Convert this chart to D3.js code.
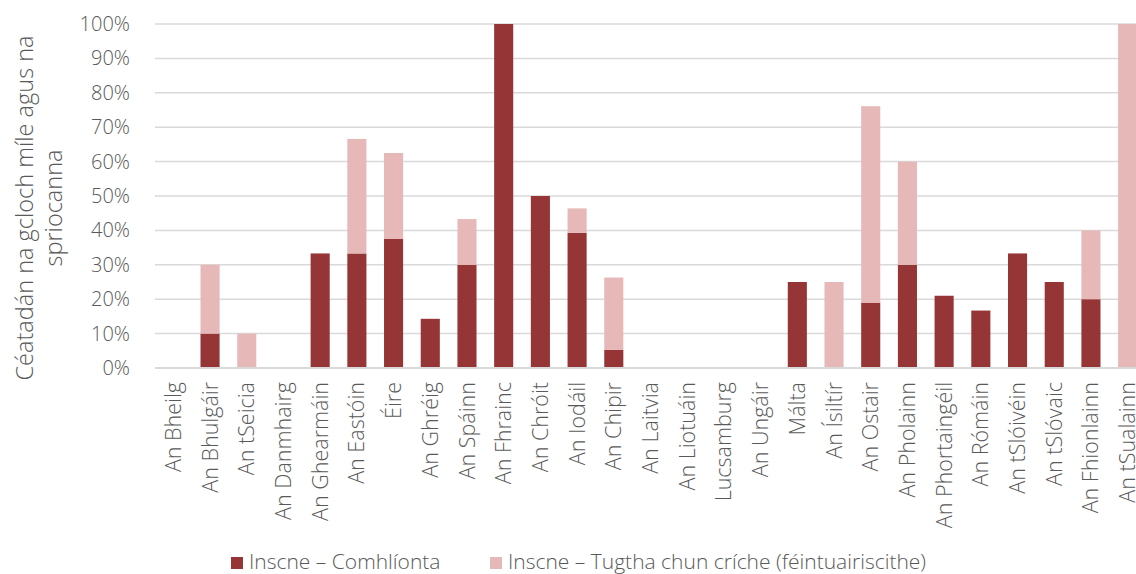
<!DOCTYPE html>
<html>
<head>
<meta charset="utf-8">
<script src="https://cdn.jsdelivr.net/npm/d3@7"></script>
<style>
  body { margin: 0; background: #fff; }
  svg { display: block; font-family: "Open Sans", sans-serif; font-weight: 300; }
</style>
</head>
<body>
<svg id="chart" width="1136" height="574"></svg>
<script>
const countries = [
  "An Bheilg", "An Bhulgáir", "An tSeicia", "An Danmhairg", "An Ghearmáin",
  "An Eastóin", "Éire", "An Ghréig", "An Spáinn", "An Fhrainc", "An Chróit",
  "An Iodáil", "An Chipir", "An Laitvia", "An Liotuáin", "Lucsamburg",
  "An Ungáir", "Málta", "An Ísiltír", "An Ostair", "An Pholainn",
  "An Phortaingéil", "An Rómáin", "An tSlóivéin", "An tSlóvaic",
  "An Fhionlainn", "An tSualainn"
];
// Inscne – Comhlíonta (%)
const complete = [0, 10, 0, 0, 33.3, 33.3, 37.5, 14.3, 30, 100, 50, 39.3, 5.3,
  0, 0, 0, 0, 25, 0, 19, 30, 21, 16.7, 33.3, 25, 20, 0];
// Inscne – Tugtha chun críche (féintuairiscithe) (%)
const selfReported = [0, 20, 10, 0, 0, 33.3, 25, 0, 13.3, 0, 0, 7.1, 21,
  0, 0, 0, 0, 0, 25, 57.1, 30, 0, 0, 0, 0, 20, 100];
const seriesNames = ["Inscne – Comhlíonta", "Inscne – Tugtha chun críche (féintuairiscithe)"];
const yTicks = [0, 10, 20, 30, 40, 50, 60, 70, 80, 90, 100];

const colors = ["#963535", "#e6b8b8"];
const margin = { top: 24, left: 155, bottom: 206 };
const svg = d3.select("#chart");
const plotRight = 1146;
const height = 574 - margin.top - margin.bottom;

const rows = countries.map((c, i) => ({ country: c, complete: complete[i], selfReported: selfReported[i] }));
const stacked = d3.stack().keys(["complete", "selfReported"])(rows);

const x = d3.scaleBand().domain(countries).range([margin.left, plotRight]).paddingInner(0.48).paddingOuter(0.24);
const y = d3.scaleLinear().domain([0, 100]).range([margin.top + height, margin.top]);

// grid lines
svg.append("g")
  .selectAll("line")
  .data(yTicks)
  .enter()
  .append("line")
  .attr("x1", margin.left)
  .attr("x2", plotRight)
  .attr("y1", d => y(d))
  .attr("y2", d => y(d))
  .attr("stroke", "#d9d9d9")
  .attr("stroke-width", 1.5);

// y tick labels
svg.append("g")
  .attr("transform", "translate(" + (margin.left - 22) + ",0)")
  .call(d3.axisLeft(y).tickValues(yTicks).tickSize(0).tickFormat(d => d + "%"))
  .call(g => g.select(".domain").remove())
  .selectAll("text")
  .attr("fill", "#595959")
  .style("font-size", "20px")
  .style("font-family", "'Open Sans', sans-serif");

// bars
svg.append("g")
  .selectAll("g")
  .data(stacked)
  .enter()
  .append("g")
  .attr("fill", (d, i) => colors[i])
  .selectAll("rect")
  .data(d => d)
  .enter()
  .append("rect")
  .attr("x", d => x(d.data.country))
  .attr("width", x.bandwidth())
  .attr("y", d => y(d[1]))
  .attr("height", d => y(d[0]) - y(d[1]));

// baseline
svg.append("line")
  .attr("x1", margin.left)
  .attr("x2", plotRight)
  .attr("y1", y(0))
  .attr("y2", y(0))
  .attr("stroke", "#d9d9d9")
  .attr("stroke-width", 2);

// x labels
svg.append("g")
  .attr("transform", "translate(0," + (y(0) + 14) + ")")
  .call(d3.axisBottom(x).tickSize(0).tickPadding(0))
  .call(g => g.select(".domain").remove())
  .selectAll("text")
  .attr("fill", "#595959")
  .style("font-size", "21.5px")
  .style("font-family", "'Open Sans', sans-serif")
  .attr("text-anchor", "end")
  .attr("dy", "0.35em")
  .attr("transform", "rotate(-90)");

// y title
const yTitle = svg.append("text")
  .attr("transform", "translate(40," + (margin.top + height / 2 + 12) + ") rotate(-90)")
  .attr("text-anchor", "middle")
  .attr("fill", "#595959")
  .style("font-size", "23.5px");
yTitle.append("tspan").attr("x", 0).attr("dy", "-0.3em").text("Céatadán na gcloch míle agus na");
yTitle.append("tspan").attr("x", 0).attr("dy", "1.25em").text("spriocanna");

// legend
const legendX = [231, 490];
const legend = svg.append("g")
  .selectAll("g")
  .data(seriesNames)
  .enter()
  .append("g")
  .attr("transform", (d, i) => "translate(" + legendX[i] + ",557)");
legend.append("rect")
  .attr("width", 12)
  .attr("height", 12)
  .attr("fill", (d, i) => colors[i]);
legend.append("text")
  .attr("x", 18)
  .attr("y", 5)
  .attr("dy", "0.35em")
  .attr("fill", "#595959")
  .style("font-size", "21px")
  .text(d => d);
</script>
</body>
</html>
